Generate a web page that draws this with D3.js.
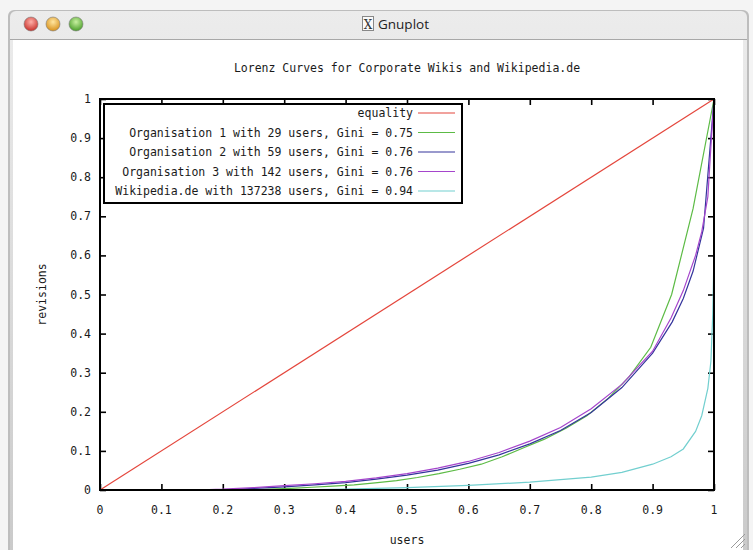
<!DOCTYPE html>
<html>
<head>
<meta charset="utf-8">
<script src="https://cdn.jsdelivr.net/npm/d3@7"></script>
<style>
  body { margin: 0; background: #f4f4f4; }
  svg { display: block; }
  .mono { font-family: "DejaVu Sans Mono", "Liberation Mono", monospace; font-size: 11.5px; fill: #1a1a1a; }
</style>
</head>
<body>
<svg width="753" height="550"></svg>
<script>
// chart text
let title = "Lorenz Curves for Corporate Wikis and Wikipedia.de";
let xLabel = "users";
let yLabel = "revisions";
let tickValues = [0, 0.1, 0.2, 0.3, 0.4, 0.5, 0.6, 0.7, 0.8, 0.9, 1];
let tickLabels = ["0", "0.1", "0.2", "0.3", "0.4", "0.5", "0.6", "0.7", "0.8", "0.9", "1"];

// series names + colours (legend order)
let seriesNames = [
  "equality",
  "Organisation 1 with 29 users, Gini = 0.75",
  "Organisation 2 with 59 users, Gini = 0.76",
  "Organisation 3 with 142 users, Gini = 0.76",
  "Wikipedia.de with 137238 users, Gini = 0.94"
];
let seriesColors = ["#e4463c", "#5cbb45", "#34349c", "#a545cc", "#72cfcf"];

// lorenz curves (x = share of users, y = share of revisions)
let equalityX = [0, 1];
let equalityY = [0, 1];

let org1X = [0, 0.241, 0.276, 0.310, 0.345, 0.379, 0.414, 0.448, 0.483, 0.517, 0.552, 0.586, 0.621, 0.655, 0.690, 0.724, 0.759, 0.793, 0.828, 0.862, 0.897, 0.931, 0.966, 1];
let org1Y = [0, 0, 0.002, 0.004, 0.007, 0.010, 0.013, 0.018, 0.024, 0.032, 0.042, 0.053, 0.066, 0.085, 0.108, 0.130, 0.158, 0.190, 0.235, 0.290, 0.365, 0.500, 0.720, 1];

let org2X = [0, 0.2, 0.25, 0.3, 0.35, 0.4, 0.45, 0.5, 0.55, 0.6, 0.65, 0.7, 0.75, 0.8, 0.85, 0.9, 0.932, 0.95, 0.966, 0.983, 1];
let org2Y = [0, 0, 0.004, 0.008, 0.013, 0.019, 0.028, 0.038, 0.051, 0.068, 0.090, 0.118, 0.152, 0.198, 0.262, 0.350, 0.430, 0.490, 0.560, 0.670, 1];

let org3X = [0, 0.155, 0.2, 0.25, 0.3, 0.35, 0.4, 0.45, 0.5, 0.55, 0.6, 0.65, 0.7, 0.75, 0.8, 0.85, 0.9, 0.93, 0.95, 0.97, 0.98, 0.99, 0.995, 1];
let org3Y = [0, 0, 0.002, 0.006, 0.011, 0.016, 0.022, 0.031, 0.042, 0.056, 0.073, 0.096, 0.125, 0.160, 0.208, 0.270, 0.355, 0.440, 0.510, 0.600, 0.660, 0.750, 0.880, 1];

let wikiX = [0, 0.3, 0.4, 0.5, 0.6, 0.7, 0.8, 0.85, 0.9, 0.93, 0.95, 0.97, 0.98, 0.99, 0.995, 0.998, 0.9995, 1];
let wikiY = [0, 0, 0.002, 0.006, 0.012, 0.020, 0.033, 0.045, 0.066, 0.085, 0.105, 0.150, 0.190, 0.260, 0.330, 0.450, 0.570, 1];

(()=>{
  let svg = d3.select("svg");

  // ---- window chrome ----
  let defs = svg.append("defs");
  let tb = defs.append("linearGradient").attr("id", "titlebar").attr("x1", 0).attr("y1", 0).attr("x2", 0).attr("y2", 1);
  tb.append("stop").attr("offset", "0%").attr("stop-color", "#ececec");
  tb.append("stop").attr("offset", "100%").attr("stop-color", "#c9c9c9");

  function ballGrad(id, light, dark){
    let gr = defs.append("radialGradient").attr("id", id).attr("cx", "50%").attr("cy", "35%").attr("r", "65%");
    gr.append("stop").attr("offset", "0%").attr("stop-color", light);
    gr.append("stop").attr("offset", "100%").attr("stop-color", dark);
  }
  ballGrad("bRed", "#ffb0a8", "#c8302a");
  ballGrad("bYel", "#ffe6a0", "#d8901a");
  ballGrad("bGrn", "#c8f0a0", "#4a9e2a");

  // window border + title bar
  svg.append("rect").attr("x", 8).attr("y", 10).attr("width", 741).attr("height", 560).attr("rx", 6)
    .style("fill", "#bdbdbd");
  svg.append("rect").attr("x", 10).attr("y", 11).attr("width", 737).attr("height", 560).attr("rx", 6)
    .style("fill", "url(#titlebar)");
  svg.append("rect").attr("x", 13).attr("y", 40).attr("width", 730).attr("height", 520)
    .style("fill", "#fff");
  svg.append("line").attr("x1", 10).attr("x2", 747).attr("y1", 39.5).attr("y2", 39.5)
    .style("stroke", "#a8a8a8");

  let balls = [["bRed", 31], ["bYel", 53], ["bGrn", 76]];
  balls.forEach(b => {
    svg.append("circle").attr("cx", b[1]).attr("cy", 24).attr("r", 7)
      .style("fill", "url(#" + b[0] + ")").style("stroke", "#7a7a7a").style("stroke-width", 0.6);
  });

  // X icon + window title
  svg.append("rect").attr("x", 362.5).attr("y", 16.5).attr("width", 11).attr("height", 14)
    .style("fill", "#fafafa").style("stroke", "#888");
  svg.append("text").attr("x", 368).attr("y", 28.5).attr("text-anchor", "middle")
    .style("font-family", "DejaVu Serif").style("font-size", "12px").style("fill", "#333").text("X");
  svg.append("text").attr("x", 378).attr("y", 29)
    .style("font-family", "Open Sans, DejaVu Sans").style("font-size", "13.5px").style("fill", "#222").text("Gnuplot");

  // resize grip
  let grip = svg.append("g").style("stroke", "#9a9a9a").style("stroke-width", 1);
  [[731, 548, 745, 534], [736, 548, 745, 539], [741, 548, 745, 544]].forEach(l => {
    grip.append("line").attr("x1", l[0]).attr("y1", l[1]).attr("x2", l[2]).attr("y2", l[3]);
  });

  // ---- plot ----
  let pLeft = 100, pRight = 714, pTop = 99, pBottom = 490;
  let x = d3.scaleLinear().domain([0, 1]).range([pLeft, pRight]);
  let y = d3.scaleLinear().domain([0, 1]).range([pBottom, pTop]);

  let plot = svg.append("g");

  let series = [
    {x: equalityX, y: equalityY},
    {x: org1X, y: org1Y},
    {x: org2X, y: org2Y},
    {x: org3X, y: org3Y},
    {x: wikiX, y: wikiY}
  ];

  let line = d3.line().x(d => x(d[0])).y(d => y(d[1]));

  // tick marks (mirrored on all four sides)
  let tickLen = 6;
  plot.append("g").attr("transform", "translate(0," + pBottom + ")")
    .call(d3.axisTop(x).tickValues(tickValues).tickSize(tickLen).tickFormat(""))
    .call(g => g.select(".domain").remove());
  plot.append("g").attr("transform", "translate(0," + pTop + ")")
    .call(d3.axisBottom(x).tickValues(tickValues).tickSize(tickLen).tickFormat(""))
    .call(g => g.select(".domain").remove());
  plot.append("g").attr("transform", "translate(" + pLeft + ",0)")
    .call(d3.axisRight(y).tickValues(tickValues).tickSize(tickLen).tickFormat(""))
    .call(g => g.select(".domain").remove());
  plot.append("g").attr("transform", "translate(" + pRight + ",0)")
    .call(d3.axisLeft(y).tickValues(tickValues).tickSize(tickLen).tickFormat(""))
    .call(g => g.select(".domain").remove());
  plot.selectAll(".tick line").style("stroke", "#000").style("stroke-width", 1.6);

  // tick labels
  plot.selectAll(".xlab").data(tickValues).enter().append("text")
    .attr("class", "mono xlab")
    .attr("x", d => x(d)).attr("y", 514)
    .attr("text-anchor", "middle")
    .text((d, i) => tickLabels[i]);
  plot.selectAll(".ylab").data(tickValues).enter().append("text")
    .attr("class", "mono ylab")
    .attr("x", 91).attr("y", d => y(d) + 4)
    .attr("text-anchor", "end")
    .text((d, i) => tickLabels[i]);

  // curves
  series.forEach((s, i) => {
    let pts = s.x.map((v, k) => [v, s.y[k]]);
    plot.append("path").datum(pts)
      .attr("d", line)
      .style("fill", "none")
      .style("stroke", seriesColors[i])
      .style("stroke-width", 1.2);
  });

  // legend box
  let legX0 = 104, legX1 = 462, legY0 = 104, legRow = 19.5;
  plot.append("rect").attr("x", legX0).attr("y", legY0).attr("width", legX1 - legX0).attr("height", 99)
    .style("fill", "#fff").style("stroke", "#000").style("stroke-width", 2);
  seriesNames.forEach((n, i) => {
    let yy = legY0 + 9 + i * legRow;
    plot.append("text").attr("class", "mono")
      .attr("x", 413).attr("y", yy + 4).attr("text-anchor", "end").text(n);
    plot.append("line").attr("x1", 418).attr("x2", 455).attr("y1", yy).attr("y2", yy)
      .style("stroke", seriesColors[i]).style("stroke-width", 1.2);
  });

  // frame
  plot.append("rect").attr("x", pLeft).attr("y", pTop).attr("width", pRight - pLeft).attr("height", pBottom - pTop)
    .style("fill", "none").style("stroke", "#000").style("stroke-width", 2);

  // titles
  svg.append("text").attr("class", "mono").attr("x", (pLeft + pRight) / 2).attr("y", 72)
    .attr("text-anchor", "middle").text(title);
  svg.append("text").attr("class", "mono").attr("x", (pLeft + pRight) / 2).attr("y", 544)
    .attr("text-anchor", "middle").text(xLabel);
  svg.append("text").attr("class", "mono")
    .attr("transform", "translate(46," + ((pTop + pBottom) / 2) + ") rotate(-90)")
    .attr("text-anchor", "middle").text(yLabel);
})();
</script>
</body>
</html>
